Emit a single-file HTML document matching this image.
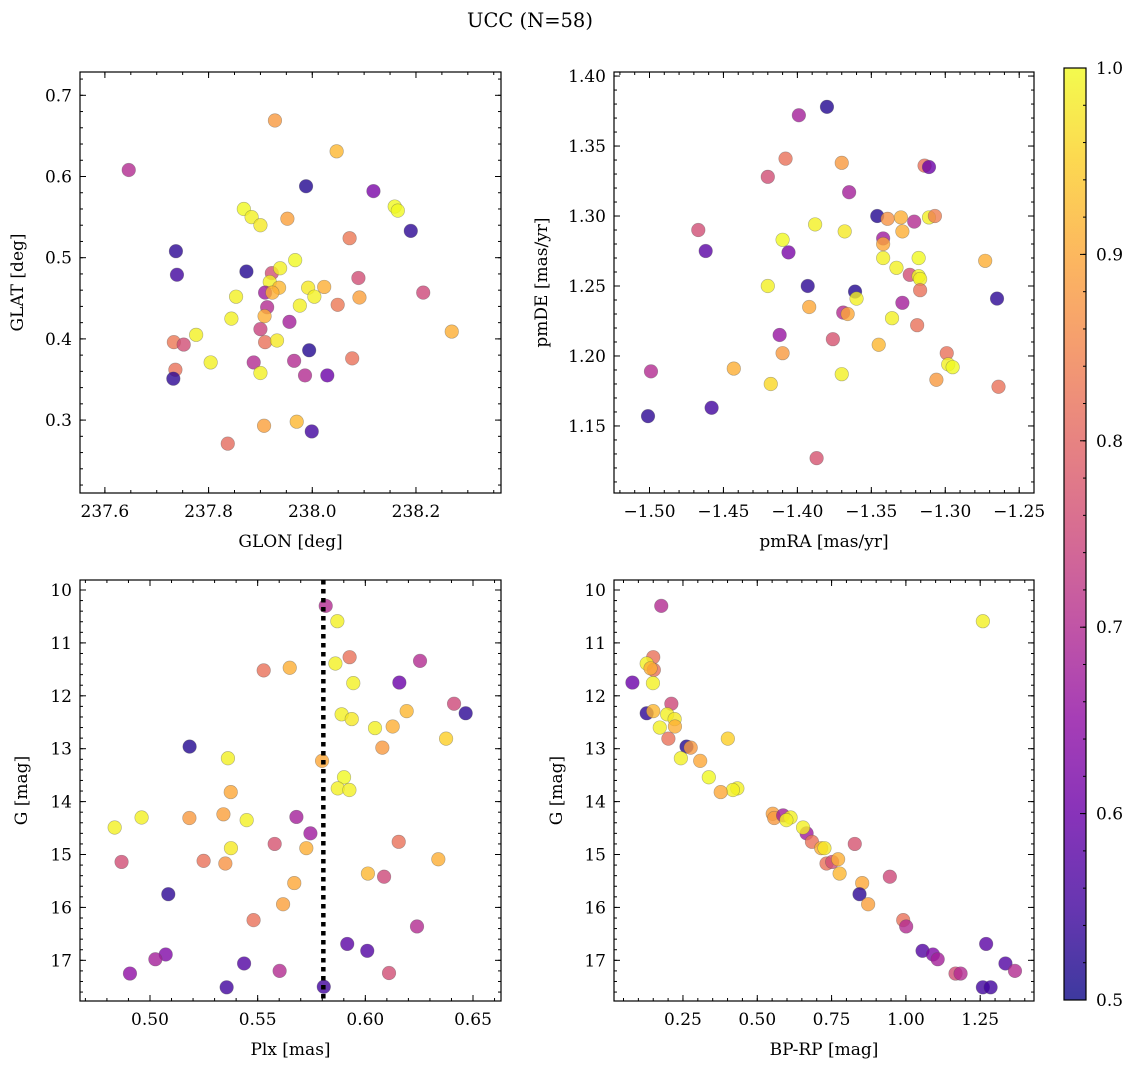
<!DOCTYPE html>
<html><head><meta charset="utf-8"><style>
body{margin:0;background:#fff;}
svg{display:block;font-family:"DejaVu Serif","Liberation Serif",serif;}
</style></head><body>
<svg id="fig" width="1136" height="1068" viewBox="0 0 1136 1068" xmlns="http://www.w3.org/2000/svg">
<rect width="1136" height="1068" fill="#fff"/>
<text x="530" y="27" font-size="19.5" text-anchor="middle">UCC (N=58)</text>
</svg>
<script>
// ---- data ----
const glon=[237.646,237.928,238.047,237.988,238.118,238.159,238.165,237.868,237.883,237.900,237.952,238.190,238.072,237.737,237.739,237.873,237.967,237.922,237.938,237.918,237.936,237.909,237.923,238.089,237.992,238.023,238.004,237.853,238.214,238.091,237.976,238.049,237.913,237.908,237.844,237.956,237.900,238.269,237.776,237.909,237.932,237.733,237.752,237.994,237.965,238.077,237.887,237.804,237.736,237.732,237.900,237.986,238.029,237.907,237.970,237.999,237.837];
const glat=[0.608,0.669,0.631,0.588,0.582,0.563,0.558,0.560,0.550,0.540,0.548,0.533,0.524,0.508,0.479,0.483,0.497,0.481,0.487,0.470,0.463,0.457,0.457,0.475,0.463,0.464,0.452,0.452,0.457,0.451,0.441,0.442,0.439,0.428,0.425,0.421,0.412,0.409,0.405,0.396,0.398,0.396,0.393,0.386,0.373,0.376,0.371,0.371,0.362,0.351,0.358,0.355,0.355,0.293,0.298,0.286,0.271];
const prob1=[0.70,0.88,0.92,0.52,0.62,1.00,1.00,1.00,0.99,0.98,0.89,0.53,0.83,0.53,0.55,0.52,1.00,0.76,0.99,0.99,0.92,0.67,0.91,0.76,0.98,0.91,0.99,0.99,0.75,0.89,0.99,0.83,0.70,0.91,0.99,0.68,0.74,0.91,0.99,0.82,0.98,0.83,0.76,0.52,0.70,0.82,0.70,0.99,0.82,0.53,0.99,0.70,0.60,0.89,0.92,0.55,0.81];

const pmra=[-1.380,-1.399,-1.408,-1.370,-1.314,-1.311,-1.420,-1.365,-1.346,-1.339,-1.330,-1.321,-1.311,-1.307,-1.388,-1.368,-1.329,-1.467,-1.410,-1.342,-1.342,-1.462,-1.406,-1.342,-1.318,-1.273,-1.333,-1.324,-1.318,-1.317,-1.420,-1.393,-1.317,-1.361,-1.360,-1.265,-1.329,-1.392,-1.369,-1.366,-1.336,-1.319,-1.412,-1.376,-1.345,-1.410,-1.299,-1.298,-1.295,-1.443,-1.499,-1.370,-1.306,-1.418,-1.264,-1.458,-1.501,-1.387];
const pmde=[1.378,1.372,1.341,1.338,1.336,1.335,1.328,1.317,1.300,1.298,1.299,1.296,1.299,1.300,1.294,1.289,1.289,1.290,1.283,1.284,1.280,1.275,1.274,1.270,1.270,1.268,1.263,1.258,1.257,1.255,1.250,1.250,1.247,1.246,1.241,1.241,1.238,1.235,1.231,1.230,1.227,1.222,1.215,1.212,1.208,1.202,1.202,1.194,1.192,1.191,1.189,1.187,1.183,1.180,1.178,1.163,1.157,1.127];
const prob2=[0.52,0.68,0.82,0.88,0.82,0.60,0.76,0.68,0.52,0.87,0.91,0.70,0.99,0.84,0.99,0.98,0.91,0.76,1.00,0.67,0.90,0.58,0.62,0.99,1.00,0.91,0.99,0.76,1.00,0.99,0.99,0.53,0.82,0.52,0.99,0.53,0.68,0.90,0.70,0.90,0.99,0.82,0.66,0.77,0.92,0.88,0.82,0.99,1.00,0.91,0.70,0.99,0.88,0.96,0.82,0.55,0.53,0.77];

const plx=[0.5816,0.5870,0.5927,0.5861,0.5528,0.5649,0.6254,0.6158,0.5944,0.6412,0.6466,0.5890,0.5937,0.6192,0.6045,0.6127,0.6375,0.6079,0.5184,0.5362,0.5799,0.5901,0.5872,0.5926,0.5375,0.4961,0.4836,0.5183,0.5341,0.5449,0.5680,0.5745,0.5579,0.5726,0.5376,0.6155,0.6339,0.4868,0.5249,0.5350,0.6012,0.6087,0.5670,0.5085,0.5618,0.5481,0.6240,0.5916,0.6009,0.5073,0.5025,0.5437,0.4907,0.5602,0.6110,0.5356,0.5807];
const gmag3=[10.30,10.59,11.27,11.39,11.52,11.47,11.34,11.75,11.76,12.15,12.33,12.35,12.44,12.29,12.61,12.58,12.81,12.98,12.96,13.18,13.23,13.54,13.75,13.78,13.82,14.30,14.49,14.31,14.24,14.35,14.29,14.60,14.80,14.88,14.88,14.76,15.09,15.14,15.12,15.17,15.36,15.42,15.54,15.75,15.94,16.24,16.36,16.69,16.82,16.89,16.98,17.06,17.25,17.20,17.24,17.51,17.50];
const prob3=[0.70,0.99,0.82,0.99,0.82,0.91,0.70,0.60,0.99,0.75,0.53,0.99,0.98,0.92,0.99,0.91,0.95,0.88,0.52,0.99,0.90,1.00,0.99,0.99,0.90,0.99,0.99,0.88,0.89,0.99,0.68,0.67,0.77,0.91,0.98,0.82,0.91,0.76,0.82,0.87,0.92,0.75,0.90,0.53,0.89,0.82,0.70,0.58,0.57,0.63,0.68,0.57,0.65,0.70,0.76,0.55,0.55];
const plxCut=[0.5805];

const bprp=[0.177,1.259,0.150,0.128,0.152,0.141,0.080,0.149,0.211,0.128,0.150,0.197,0.222,0.172,0.223,0.401,0.201,0.262,0.276,0.243,0.308,0.337,0.433,0.418,0.377,0.552,0.557,0.587,0.612,0.598,0.666,0.654,0.684,0.715,0.726,0.828,0.733,0.752,0.772,0.777,0.946,0.853,0.844,0.873,0.991,1.001,1.270,1.056,1.091,1.107,1.335,1.367,1.167,1.184,1.259,1.285];
const gmag4=[10.30,10.59,11.27,11.39,11.51,11.48,11.75,11.76,12.15,12.33,12.29,12.35,12.44,12.60,12.58,12.81,12.81,12.96,12.98,13.18,13.23,13.54,13.75,13.78,13.82,14.23,14.31,14.26,14.30,14.35,14.60,14.49,14.76,14.88,14.88,14.80,15.17,15.14,15.09,15.36,15.42,15.54,15.75,15.94,16.24,16.36,16.69,16.82,16.89,16.98,17.06,17.20,17.25,17.25,17.51,17.51];
const prob4=[0.70,0.99,0.82,0.99,0.82,0.91,0.60,0.99,0.75,0.53,0.92,0.99,0.98,0.99,0.91,0.95,0.82,0.52,0.88,0.99,0.90,1.00,0.99,0.99,0.90,0.89,0.88,0.68,0.99,0.99,0.67,0.99,0.82,0.91,0.98,0.77,0.82,0.76,0.91,0.92,0.75,0.90,0.53,0.89,0.82,0.70,0.58,0.57,0.63,0.68,0.57,0.70,0.76,0.70,0.55,0.55];

const p1XTicks=[237.6,237.8,238.0,238.2];
const p1XLabels=["237.6","237.8","238.0","238.2"];
const p1YTicks=[0.3,0.4,0.5,0.6,0.7];
const p1YLabels=["0.3","0.4","0.5","0.6","0.7"];
const p2XTicks=[-1.50,-1.45,-1.40,-1.35,-1.30,-1.25];
const p2XLabels=["\u22121.50","\u22121.45","\u22121.40","\u22121.35","\u22121.30","\u22121.25"];
const p2YTicks=[1.15,1.20,1.25,1.30,1.35,1.40];
const p2YLabels=["1.15","1.20","1.25","1.30","1.35","1.40"];
const p3XTicks=[0.50,0.55,0.60,0.65];
const p3XLabels=["0.50","0.55","0.60","0.65"];
const gTicks=[10,11,12,13,14,15,16,17];
const gLabels=["10","11","12","13","14","15","16","17"];
const p4XTicks=[0.25,0.50,0.75,1.00,1.25];
const p4XLabels=["0.25","0.50","0.75","1.00","1.25"];
const cbTicks=[0.5,0.6,0.7,0.8,0.9,1.0];
const cbLabels=["0.5","0.6","0.7","0.8","0.9","1.0"];

// ---- drawing ----
const NS="http://www.w3.org/2000/svg";
const svg=document.getElementById('fig');
function mk(tag,attrs,parent){const e=document.createElementNS(NS,tag);for(const k in attrs)e.setAttribute(k,attrs[k]);(parent||svg).appendChild(e);return e;}
const plasma=[[13,8,135],[65,4,157],[106,0,168],[143,13,164],[177,42,144],[204,71,120],[225,100,98],[242,132,75],[252,166,54],[252,206,37],[240,249,33]];
function cmap(p){let t=(p-0.5)/0.5;t=Math.max(0,Math.min(1,t));const f=t*10;const i=Math.min(9,Math.floor(f));const r=f-i;const a=plasma[i],b=plasma[i+1];return `rgb(${Math.round(a[0]+(b[0]-a[0])*r)},${Math.round(a[1]+(b[1]-a[1])*r)},${Math.round(a[2]+(b[2]-a[2])*r)})`;}

const TICKFS=17, LABFS=17;
function panel(cfg){
  const g=mk('g',{});
  
  
  const sx=v=>cfg.x0+(v-cfg.xmin)/(cfg.xmax-cfg.xmin)*cfg.w;
  const sy=cfg.invert?(v=>cfg.y0+(v-cfg.ymin)/(cfg.ymax-cfg.ymin)*cfg.h):(v=>cfg.y0+cfg.h-(v-cfg.ymin)/(cfg.ymax-cfg.ymin)*cfg.h);
  const pg=mk('g',{},g);
  
  
  for(let i=0;i<cfg.xs.length;i++){
    const c=mk('circle',{cx:sx(cfg.xs[i]),cy:sy(cfg.ys[i]),r:6.8,fill:cmap(cfg.cs[i]),'fill-opacity':0.8,stroke:'#555','stroke-opacity':0.45,'stroke-width':0.6},pg);
    
    
  }
  if(cfg.vline){
    const l=mk('line',{x1:sx(cfg.vline[0]),x2:sx(cfg.vline[0]),y1:cfg.y0,y2:cfg.y0+cfg.h,stroke:'#000','stroke-width':4.5,'stroke-dasharray':'4.5 4.5'},g);
    
    
  }
  const fr=mk('rect',{x:cfg.x0,y:cfg.y0,width:cfg.w,height:cfg.h,fill:'none',stroke:'#000','stroke-width':1.2},g);
  
  
  const tk=mk('g',{stroke:'#000','stroke-width':1},g);
  const eps=1e-9;
  for(let v=Math.ceil(cfg.xmin/cfg.xminor-eps)*cfg.xminor; v<=cfg.xmax+eps; v+=cfg.xminor){
    const x=sx(v);
    mk('line',{x1:x,x2:x,y1:cfg.y0+cfg.h,y2:cfg.y0+cfg.h-3},tk);
    mk('line',{x1:x,x2:x,y1:cfg.y0,y2:cfg.y0+3},tk);
  }
  const ylo=Math.min(cfg.ymin,cfg.ymax),yhi=Math.max(cfg.ymin,cfg.ymax);
  for(let v=Math.ceil(ylo/cfg.yminor-eps)*cfg.yminor; v<=yhi+eps; v+=cfg.yminor){
    const y=sy(v);
    mk('line',{x1:cfg.x0,x2:cfg.x0+3,y1:y,y2:y},tk);
    mk('line',{x1:cfg.x0+cfg.w,x2:cfg.x0+cfg.w-3,y1:y,y2:y},tk);
  }
  cfg.xt.forEach((v,i)=>{
    const x=sx(v);
    mk('line',{x1:x,x2:x,y1:cfg.y0+cfg.h,y2:cfg.y0+cfg.h-6},tk);
    mk('line',{x1:x,x2:x,y1:cfg.y0,y2:cfg.y0+6},tk);
    const t=mk('text',{x:x,y:cfg.y0+cfg.h+24,'font-size':TICKFS,'text-anchor':'middle'},g);
    t.textContent=cfg.xl[i];
    
    
  });
  cfg.yt.forEach((v,i)=>{
    const y=sy(v);
    mk('line',{x1:cfg.x0,x2:cfg.x0+6,y1:y,y2:y},tk);
    mk('line',{x1:cfg.x0+cfg.w,x2:cfg.x0+cfg.w-6,y1:y,y2:y},tk);
    const t=mk('text',{x:cfg.x0-8,y:y+6,'font-size':TICKFS,'text-anchor':'end'},g);
    t.textContent=cfg.yl[i];
    
    
  });
  const xt=mk('text',{x:cfg.x0+cfg.w/2,y:cfg.y0+cfg.h+54,'font-size':LABFS,'text-anchor':'middle'},g);
  xt.textContent=cfg.xlabel;
  
  
  const yx=cfg.ylabx, yy=cfg.y0+cfg.h/2;
  const yt=mk('text',{x:yx,y:yy,'font-size':LABFS,'text-anchor':'middle',transform:`rotate(-90 ${yx} ${yy})`},g);
  yt.textContent=cfg.ylabel;
  
  
}

panel({name:'glon-glat-panel',x0:80,y0:72,w:421,h:421,xmin:237.552,xmax:238.364,ymin:0.2102,ymax:0.7287,xminor:0.05,yminor:0.02,
  xs:glon,ys:glat,cs:prob1,xt:p1XTicks,xl:p1XLabels,yt:p1YTicks,yl:p1YLabels,xlabel:'GLON [deg]',ylabel:'GLAT [deg]',ylabx:23});
panel({name:'pm-panel',x0:614,y0:72,w:420,h:421,xmin:-1.524,xmax:-1.240,ymin:1.1021,ymax:1.4029,xminor:0.01,yminor:0.01,
  xs:pmra,ys:pmde,cs:prob2,xt:p2XTicks,xl:p2XLabels,yt:p2YTicks,yl:p2YLabels,xlabel:'pmRA [mas/yr]',ylabel:'pmDE [mas/yr]',ylabx:547});
panel({name:'plx-g-panel',x0:80,y0:580,w:421,h:421,xmin:0.4675,xmax:0.6630,ymin:9.811,ymax:17.769,invert:true,xminor:0.01,yminor:0.2,
  xs:plx,ys:gmag3,cs:prob3,xt:p3XTicks,xl:p3XLabels,yt:gTicks,yl:gLabels,xlabel:'Plx [mas]',ylabel:'G [mag]',ylabx:27,vline:plxCut});
panel({name:'cmd-panel',x0:614,y0:580,w:420,h:421,xmin:0.018,xmax:1.431,ymin:9.811,ymax:17.769,invert:true,xminor:0.05,yminor:0.2,
  xs:bprp,ys:gmag4,cs:prob4,xt:p4XTicks,xl:p4XLabels,yt:gTicks,yl:gLabels,xlabel:'BP-RP [mag]',ylabel:'G [mag]',ylabx:562});

(function(){
  const x0=1064,y0=68,w=22,h=932;
  const cb=mk('g',{});
  
  
  const defs=mk('defs',{},cb);
  const lg=mk('linearGradient',{id:'pl',x1:0,y1:1,x2:0,y2:0},defs);
  for(let i=0;i<=20;i++){mk('stop',{offset:(i/20),'stop-color':cmap(0.5+i/40)},lg);}
  mk('rect',{x:x0,y:y0,width:w,height:h,fill:'url(#pl)','fill-opacity':0.8},cb);
  mk('rect',{x:x0,y:y0,width:w,height:h,fill:'none',stroke:'#000','stroke-width':1.2},cb);
  const sy=v=>y0+h-(v-0.5)/0.5*h;
  for(let v=0.5;v<=1.0001;v+=0.02){const y=sy(v);mk('line',{x1:x0+w,x2:x0+w-3,y1:y,y2:y,stroke:'#000'},cb);}
  cbTicks.forEach((v,i)=>{const y=sy(v);mk('line',{x1:x0+w,x2:x0+w-6,y1:y,y2:y,stroke:'#000'},cb);
    const t=mk('text',{x:x0+w+10,y:y+6,'font-size':TICKFS},cb);t.textContent=cbLabels[i];
    
    });
})();
</script>
</body></html>
